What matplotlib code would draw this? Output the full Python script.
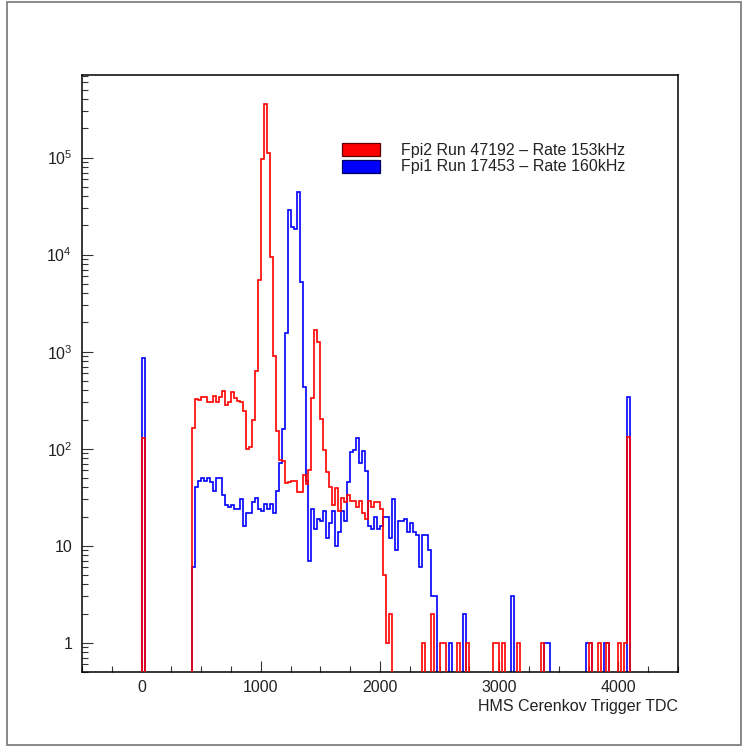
import numpy as np
import matplotlib
matplotlib.use("Agg")
import matplotlib.pyplot as plt
from matplotlib.patches import Rectangle
from matplotlib.ticker import MultipleLocator, FixedLocator, FixedFormatter, LogLocator, NullFormatter

plt.rcParams['font.family'] = ['Liberation Sans', 'DejaVu Sans']
plt.rcParams['mathtext.fontset'] = 'custom'
plt.rcParams['mathtext.rm'] = 'Liberation Sans'

# histogram binning: 25 TDC channels per bin
bin_width = 25
x_lo, x_hi = -500, 4500

# Fpi2 (red) - contiguous part starting at bin 425
red_start = 425
red_main = [163, 328, 320, 338, 338, 303, 303, 346, 303, 340, 396, 284, 300, 384,
            333, 312, 300, 243, 99, 104, 196, 626, 5530, 97700, 358000, 111000,
            9470, 905, 151, 77, 75, 44, 45, 47, 47, 36, 36, 53, 43, 61, 333, 1660,
            1258, 202, 96, 58, 40, 26, 39, 23, 31, 28, 33, 29, 29, 25, 29, 22, 19,
            29, 25, 28, 28, 24, 5, 1, 2]
red_extra_bins = [0, 2350, 2425, 2500, 2525, 2650, 2725, 2950, 2975, 3025, 3150,
                  3350, 3750, 3825, 3900, 4000, 4050, 4075]
red_extra_counts = [129, 1, 2, 1, 1, 1, 1, 1, 1, 1, 1, 1, 1, 1, 1, 1, 1, 131]

# Fpi1 (blue)
blue_start = 425
blue_main = [6, 40, 46, 50, 47, 50, 45, 37, 50, 50, 33, 26, 25, 26, 24, 24, 30, 16,
             22, 22, 28, 31, 24, 23, 27, 24, 27, 22, 37, 72, 161, 1560, 28600,
             19100, 18400, 44600, 5190, 430, 46, 7, 24, 15, 19, 18, 23, 12, 17, 23,
             10, 14, 23, 18, 45, 92, 97, 129, 72, 94, 59, 16, 15, 20, 15, 16, 20,
             20, 12, 30, 9, 18, 18, 19, 14, 17, 14, 13, 6, 13, 13, 9, 3, 3]
blue_extra_bins = [0, 2575, 2700, 3100, 3375, 3400, 3725, 3750, 3875, 3900, 4075]
blue_extra_counts = [861, 1, 2, 3, 1, 1, 1, 1, 1, 1, 344]

legend_labels = ["Fpi2 Run 47192 \u2013 Rate 153kHz", "Fpi1 Run 17453 \u2013 Rate 160kHz"]
x_title = "HMS Cerenkov Trigger TDC"


def fill_hist(start, main, extra_bins, extra_counts):
    edges = np.arange(x_lo, x_hi + bin_width, bin_width)
    h = np.zeros(len(edges) - 1)
    i0 = (start - x_lo) // bin_width
    h[i0:i0 + len(main)] = main
    for b, c in zip(extra_bins, extra_counts):
        h[(b - x_lo) // bin_width] = c
    # empty bins drawn below the axis so the outline drops to the frame
    h[h <= 0] = 1e-2
    return edges, h


W, H = 744, 747
fig = plt.figure(figsize=(W / 100, H / 100), dpi=100)
ax = fig.add_axes([82 / W, 1 - 672 / H, (678 - 82) / W, (672 - 75) / H])

edges, red_h = fill_hist(red_start, red_main, red_extra_bins, red_extra_counts)
_, blue_h = fill_hist(blue_start, blue_main, blue_extra_bins, blue_extra_counts)

ax.stairs(blue_h, edges, color="#0000ff", lw=1.2, zorder=2)
ax.stairs(red_h, edges, color="#ff0000", lw=1.2, zorder=3)

ax.set_yscale("log")
ax.set_xlim(x_lo, x_hi)
ax.set_ylim(0.5, 7.1e5)

ax.xaxis.set_major_locator(MultipleLocator(1000))
ax.xaxis.set_minor_locator(MultipleLocator(250))
ax.yaxis.set_major_locator(FixedLocator([1, 10, 1e2, 1e3, 1e4, 1e5]))
ax.yaxis.set_major_formatter(FixedFormatter(["1", "10", r"$\mathregular{10^{2}}$",
                                             r"$\mathregular{10^{3}}$", r"$\mathregular{10^{4}}$",
                                             r"$\mathregular{10^{5}}$"]))
ax.yaxis.set_minor_locator(LogLocator(base=10, subs=np.arange(2, 10), numticks=20))
ax.yaxis.set_minor_formatter(NullFormatter())

ax.tick_params(which="both", direction="in", top=False, right=False, color="#333333",
               width=0.8, labelsize=11.5, labelcolor="#222222")
ax.tick_params(which="major", length=8)
ax.tick_params(which="minor", length=4.2)
ax.tick_params(axis="x", pad=6)
ax.tick_params(axis="y", pad=7)
for s in ax.spines.values():
    s.set_linewidth(1.1)

ax.set_xlabel(x_title, fontsize=11.5, color="#222222", ha="right")
ax.xaxis.set_label_coords(1.0, -34 / 597)
ax.xaxis.label.set_va("center")

# legend boxes and text
for k, (col, ec) in enumerate([("#ff0000", "#600000"), ("#0000ff", "#000060")]):
    y_top = 143 + k * 17
    fig.patches.append(Rectangle((342 / W, 1 - (y_top + 13) / H), 38 / W, 13 / H,
                                 transform=fig.transFigure, facecolor=col,
                                 edgecolor=ec, lw=0.9))
    fig.text(401 / W, 1 - (y_top + 7) / H, legend_labels[k], fontsize=11.5,
             color="#222222", va="center", ha="left")

# canvas border
fig.patches.append(Rectangle((7 / W, 2 / H), (741 - 7) / W, (745 - 2) / H,
                             transform=fig.transFigure, fill=False,
                             edgecolor="#808080", lw=1.3))

fig.savefig("out.png", dpi=100)
